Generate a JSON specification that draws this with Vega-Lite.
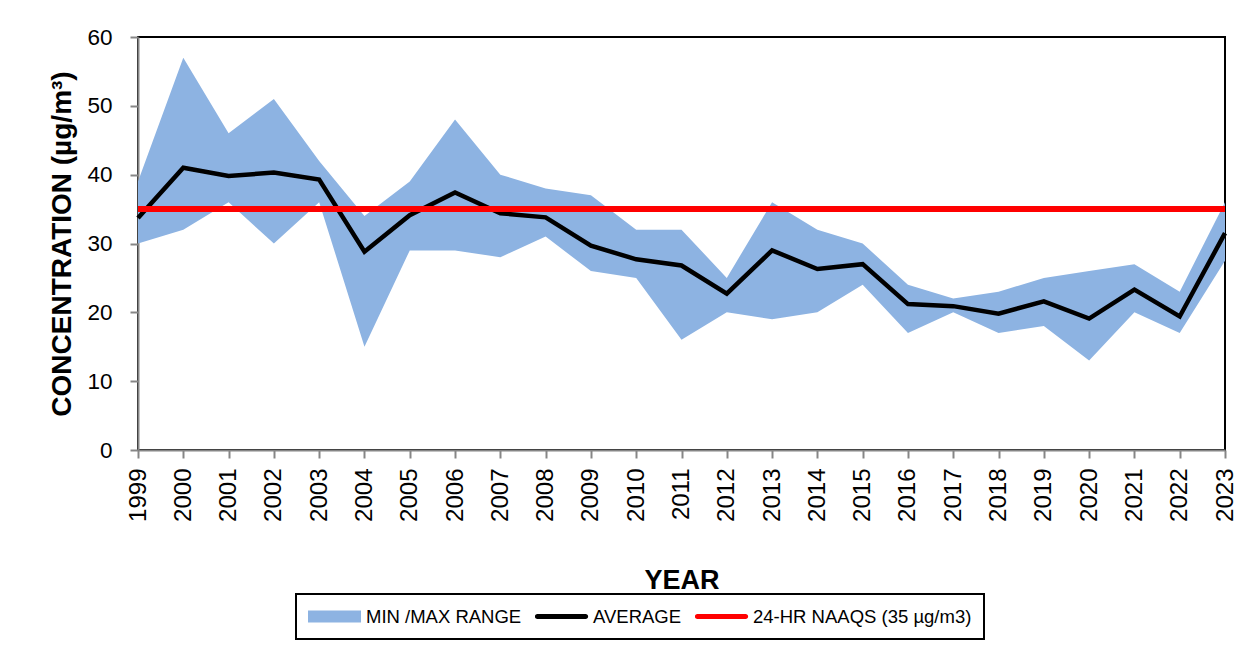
{
  "$schema": "https://vega.github.io/schema/vega-lite/v6.json",
  "width": 1087,
  "height": 413,
  "autosize": {"type": "none"},
  "padding": {"left": 138, "top": 37, "right": 21, "bottom": 206},
  "background": "white",
  "config": {
    "font": "Liberation Sans",
    "view": {"stroke": "black", "strokeWidth": 2},
    "axis": {
      "domainColor": "#868686", "domainWidth": 2,
      "tickColor": "#868686", "tickWidth": 2, "tickSize": 8,
      "grid": false, "labelColor": "black", "titleColor": "black",
      "labelFont": "Liberation Sans", "titleFont": "Liberation Sans",
      "titleFontWeight": "bold", "titleFontSize": 27
    }
  },
  "data": {
    "values": [
      {"year": 1999, "min": 30, "max": 39, "avg": 33.7},
      {"year": 2000, "min": 32, "max": 57, "avg": 41.0},
      {"year": 2001, "min": 36, "max": 46, "avg": 39.8},
      {"year": 2002, "min": 30, "max": 51, "avg": 40.3},
      {"year": 2003, "min": 36, "max": 42, "avg": 39.3},
      {"year": 2004, "min": 15, "max": 34, "avg": 28.8},
      {"year": 2005, "min": 29, "max": 39, "avg": 34.1},
      {"year": 2006, "min": 29, "max": 48, "avg": 37.4},
      {"year": 2007, "min": 28, "max": 40, "avg": 34.4},
      {"year": 2008, "min": 31, "max": 38, "avg": 33.8},
      {"year": 2009, "min": 26, "max": 37, "avg": 29.7},
      {"year": 2010, "min": 25, "max": 32, "avg": 27.7},
      {"year": 2011, "min": 16, "max": 32, "avg": 26.8},
      {"year": 2012, "min": 20, "max": 25, "avg": 22.7},
      {"year": 2013, "min": 19, "max": 36, "avg": 29.0},
      {"year": 2014, "min": 20, "max": 32, "avg": 26.3},
      {"year": 2015, "min": 24, "max": 30, "avg": 27.0},
      {"year": 2016, "min": 17, "max": 24, "avg": 21.2},
      {"year": 2017, "min": 20, "max": 22, "avg": 20.9},
      {"year": 2018, "min": 17, "max": 23, "avg": 19.8},
      {"year": 2019, "min": 18, "max": 25, "avg": 21.6},
      {"year": 2020, "min": 13, "max": 26, "avg": 19.1},
      {"year": 2021, "min": 20, "max": 27, "avg": 23.3},
      {"year": 2022, "min": 17, "max": 23, "avg": 19.4},
      {"year": 2023, "min": 27.5, "max": 36, "avg": 31.5}
    ]
  },
  "layer": [
    {
      "mark": {"type": "area"},
      "encoding": {
        "x": {
          "field": "year", "type": "quantitative",
          "scale": {"domain": [1999, 2023], "nice": false, "zero": false},
          "axis": {
            "values": [1999,2000,2001,2002,2003,2004,2005,2006,2007,2008,2009,2010,2011,2012,2013,2014,2015,2016,2017,2018,2019,2020,2021,2022,2023],
            "format": "d", "labelAngle": -90, "labelFontSize": 24, "labelPadding": 10,
            "labelFlush": false, "labelOverlap": false,
            "title": "YEAR", "titlePadding": 46
          }
        },
        "y": {
          "field": "min", "type": "quantitative",
          "scale": {"domain": [0, 60], "nice": false},
          "axis": {
            "values": [0,10,20,30,40,50,60], "labelFontSize": 22.5, "labelPadding": 18,
            "labelFlush": false,
            "title": "CONCENTRATION (µg/m³)", "titlePadding": 10, "titleFontSize": 28
          }
        },
        "y2": {"field": "max"},
        "color": {
          "datum": "MIN /MAX RANGE", "type": "nominal",
          "scale": {
            "domain": ["MIN /MAX RANGE", "AVERAGE", "24-HR NAAQS (35 µg/m3)"],
            "range": ["#8DB3E2", "#000000", "#FF0000"]
          },
          "legend": {
            "orient": "none", "legendX": 158, "legendY": 557,
            "direction": "horizontal", "columns": 3, "title": null,
            "strokeColor": "black", "padding": 12, "clipHeight": 21,
            "labelFontSize": 18.5, "labelFont": "Liberation Sans", "labelColor": "black",
            "labelOffset": 5, "columnPadding": 13, "symbolSize": 2809,
            "symbolStrokeWidth": 0,
            "gridAlign": "none", "labelLimit": 400,
            "encode": {
              "legend": {"update": {"strokeWidth": {"value": 2}}},
              "symbols": {
                "update": {
                  "shape": {"signal": "datum.value === 'MIN /MAX RANGE' ? 'M-1,-0.23H1V0.23H-1Z' : 'M-0.91,-0.095H0.91A0.095,0.095 0 0 1 0.91,0.095H-0.91A0.095,0.095 0 0 1 -0.91,-0.095Z'"},
                  "fill": {"scale": "color", "field": "value"},
                  "stroke": {"value": "transparent"},
                  "strokeWidth": {"value": 0},
                  "opacity": {"value": 1},
                  "fillOpacity": {"value": 1}
                }
              }
            }
          }
        }
      }
    },
    {
      "mark": {"type": "line", "strokeWidth": 4.5},
      "encoding": {
        "x": {"field": "year", "type": "quantitative"},
        "y": {"field": "avg", "type": "quantitative"},
        "color": {"datum": "AVERAGE", "type": "nominal"}
      }
    },
    {
      "mark": {"type": "rule", "strokeWidth": 5.5},
      "encoding": {
        "y": {"datum": 35},
        "color": {"datum": "24-HR NAAQS (35 µg/m3)", "type": "nominal"}
      }
    }
  ]
}
